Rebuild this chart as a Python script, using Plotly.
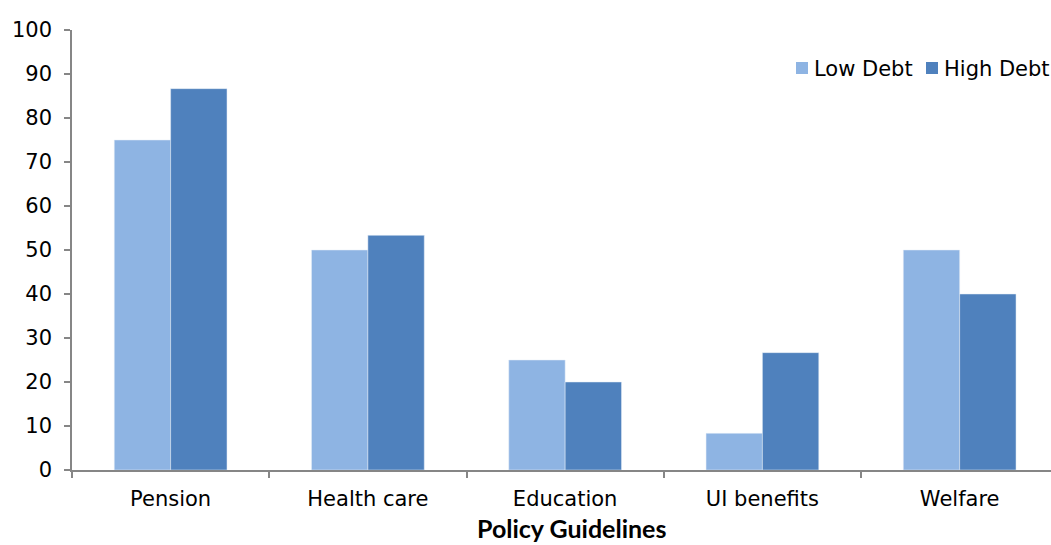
import plotly.graph_objects as go

categories = ["Pension", "Health care", "Education", "UI benefits", "Welfare"]
low_debt = [75, 50, 25, 8.33, 50]
high_debt = [86.67, 53.33, 20, 26.67, 40]
y_ticks = [0, 10, 20, 30, 40, 50, 60, 70, 80, 90, 100]
series_names = ["Low Debt", "High Debt"]
series_colors = ["#8EB4E3", "#4F81BD"]

font_main = "DejaVu Sans, Verdana, sans-serif"

W, H = 1051, 545
L, R, T, B = 72, 0, 30, 75
PW, PH = W - L - R, H - T - B


def px_x(x):
    return (x - L) / PW


def px_y(y):
    return (H - B - y) / PH


fig = go.Figure()
for name, vals, col in zip(series_names, [low_debt, high_debt], series_colors):
    fig.add_trace(go.Bar(x=categories, y=vals, name=name, marker_color=col))

fig.update_layout(
    width=W, height=H,
    margin=dict(l=L, r=R, t=T, b=B),
    paper_bgcolor="white", plot_bgcolor="white",
    barmode="group", bargap=0.4286, bargroupgap=0,
    font=dict(family=font_main, size=21, color="#000000"),
    showlegend=False,
    xaxis=dict(
        range=[-0.5, 4.463], showline=True, linecolor="#868686", linewidth=1.5,
        ticks="outside", tickson="boundaries", ticklen=6, tickcolor="#868686", tickwidth=1.5,
        showgrid=False, zeroline=False, ticklabelstandoff=9,
    ),
    yaxis=dict(
        range=[0, 100], tickvals=y_ticks, showline=True, linecolor="#868686", linewidth=1.5,
        ticks="outside", ticklen=6, tickcolor="#868686", tickwidth=1.5,
        showgrid=False, zeroline=False, ticklabelstandoff=8,
    ),
)

# axis title
fig.add_annotation(text="<b>Policy Guidelines</b>", xref="paper", yref="paper",
                   x=px_x(571), y=px_y(528), xanchor="center", yanchor="middle",
                   showarrow=False, borderpad=0,
                   font=dict(family="Lato, Carlito, sans-serif", size=25))

# legend (manual)
legend_items = [(796, 813), (926, 943)]
for (sx, tx), name, col in zip(legend_items, series_names, series_colors):
    fig.add_shape(type="rect", xref="paper", yref="paper",
                  x0=px_x(sx), x1=px_x(sx + 12), y0=px_y(74), y1=px_y(62),
                  fillcolor=col, line=dict(width=0))
    fig.add_annotation(text=name, xref="paper", yref="paper", x=px_x(tx), y=px_y(69),
                       xanchor="left", yanchor="middle", showarrow=False,
                       font=dict(size=21), borderpad=0)

fig.write_html("out.html")
